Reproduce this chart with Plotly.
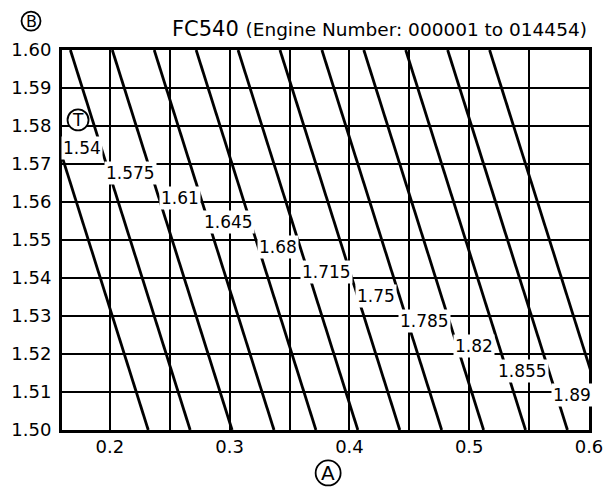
import plotly.graph_objects as go

# Shim thickness T (mm) printed in each band
shim_sizes = ["1.54", "1.575", "1.61", "1.645", "1.68", "1.715",
              "1.75", "1.785", "1.82", "1.855", "1.89"]
# Band boundaries: A + B = constant along each line
boundary_sums = [1.732, 1.767, 1.802, 1.837, 1.872, 1.907,
                 1.942, 1.977, 2.012, 2.047, 2.082, 2.117]

x_ticks = [0.2, 0.25, 0.3, 0.35, 0.4, 0.45, 0.5, 0.55, 0.6]
x_tick_text = ["0.2", "", "0.3", "", "0.4", "", "0.5", "", "0.6"]
y_ticks = [1.50, 1.51, 1.52, 1.53, 1.54, 1.55, 1.56, 1.57, 1.58, 1.59, 1.60]
y_tick_text = ["1.50", "1.51", "1.52", "1.53", "1.54", "1.55",
               "1.56", "1.57", "1.58", "1.59", "1.60"]

B_MIN, B_MAX = 1.50, 1.60
FONT = "DejaVu Sans, Liberation Sans, Arial, sans-serif"

fig = go.Figure()
for s in boundary_sums:
    fig.add_trace(go.Scatter(
        x=[s - B_MAX, s - B_MIN], y=[B_MAX, B_MIN],
        mode="lines", line=dict(color="black", width=2.8),
        showlegend=False, hoverinfo="skip"))

# Band labels laid out as a staircase across the chart
for i, t in enumerate(shim_sizes):
    fig.add_annotation(
        x=0.1767 + 0.0409 * i, y=1.5742 - 0.00651 * i,
        text=t, showarrow=False, bgcolor="white", borderpad=1,
        font=dict(family=FONT, size=17, color="black"))


def circled_letter(letter, x, y, radius, size, xref, yref):
    """Draw a letter inside a circle, sized in pixels."""
    fig.add_shape(type="circle", xref=xref, yref=yref,
                  xsizemode="pixel", ysizemode="pixel",
                  xanchor=x, yanchor=y,
                  x0=-radius, x1=radius, y0=-radius, y1=radius,
                  line=dict(color="black", width=1.8),
                  fillcolor="white")
    fig.add_annotation(xref=xref, yref=yref, x=x, y=y, text=letter,
                       showarrow=False, xanchor="center", yanchor="middle",
                       font=dict(family=FONT, size=size, color="black"))


circled_letter("T", 0.1734, 1.5816, 10.5, 17, "x", "y")
circled_letter("B", -0.0588, 1.076, 9.5, 16, "paper", "paper")
circled_letter("A", 0.505, -0.113, 12.5, 20, "paper", "paper")

fig.add_annotation(
    xref="paper", yref="paper", x=1.0, y=1.055, xanchor="right",
    yanchor="middle", showarrow=False,
    text="FC540 <span style='font-size:18.5px'>(Engine Number: 000001 to 014454)</span>",
    font=dict(family=FONT, size=21, color="black"))

axis_common = dict(showgrid=True, gridcolor="black", gridwidth=2,
                   showline=True, linecolor="black", linewidth=3,
                   mirror=True, zeroline=False, ticks="", automargin=False,
                   tickfont=dict(family=FONT, size=18, color="black"))

fig.update_xaxes(range=[0.16, 0.6], tickmode="array", tickvals=x_ticks,
                 ticktext=x_tick_text, ticklabelstandoff=-2, **axis_common)
fig.update_yaxes(range=[B_MIN, B_MAX], tickmode="array", tickvals=y_ticks,
                 ticktext=y_tick_text, ticklabelstandoff=4, **axis_common)

fig.update_layout(width=606, height=487,
                  margin=dict(l=62, r=17, t=50, b=57),
                  plot_bgcolor="white", paper_bgcolor="white")

fig.write_html("out.html")
